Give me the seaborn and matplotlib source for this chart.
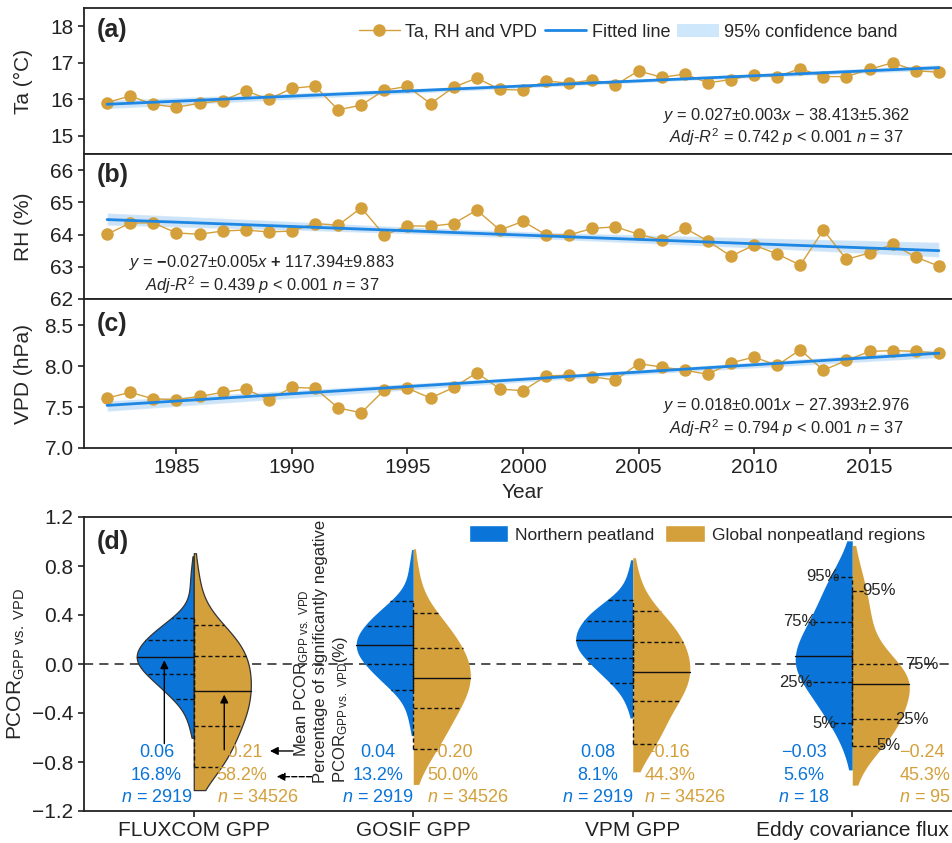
import numpy as np
import pandas as pd
import seaborn as sns
import matplotlib.pyplot as plt
from matplotlib.lines import Line2D
from matplotlib.patches import Patch

# ---- data ----
years = np.arange(1982, 2019)
ta = [15.91, 16.09, 15.86, 15.78, 15.89, 15.96, 16.23, 16.00, 16.30, 16.36,
      15.71, 15.84, 16.25, 16.35, 15.88, 16.33, 16.58, 16.27, 16.25, 16.50,
      16.44, 16.53, 16.39, 16.78, 16.60, 16.69, 16.45, 16.54, 16.67, 16.62,
      16.84, 16.62, 16.62, 16.82, 17.00, 16.78, 16.74]
rh = [64.01, 64.36, 64.36, 64.05, 64.01, 64.11, 64.14, 64.08, 64.11, 64.34,
      64.29, 64.83, 63.98, 64.27, 64.26, 64.34, 64.76, 64.14, 64.41, 63.99,
      63.99, 64.19, 64.24, 64.01, 63.83, 64.20, 63.80, 63.33, 63.67, 63.40,
      63.05, 64.14, 63.23, 63.43, 63.70, 63.30, 63.02]
vpd = [7.61, 7.68, 7.60, 7.59, 7.63, 7.68, 7.72, 7.59, 7.74, 7.73,
       7.49, 7.43, 7.71, 7.73, 7.61, 7.74, 7.92, 7.72, 7.70, 7.88,
       7.89, 7.87, 7.83, 8.03, 7.99, 7.95, 7.90, 8.04, 8.11, 8.01,
       8.20, 7.95, 8.07, 8.18, 8.19, 8.18, 8.16]

eq_a = ["$y$ = 0.027±0.003$x$ − 38.413±5.362", "$Adj$-$R^2$ = 0.742 $p$ < 0.001 $n$ = 37"]
eq_b = ["$y$ = $\\mathbf{-}$0.027±0.005$x$ $\\mathbf{+}$ 117.394±9.883", "$Adj$-$R^2$ = 0.439 $p$ < 0.001 $n$ = 37"]
eq_c = ["$y$ = 0.018±0.001$x$ − 27.393±2.976", "$Adj$-$R^2$ = 0.794 $p$ < 0.001 $n$ = 37"]

products = ["FLUXCOM GPP", "GOSIF GPP", "VPM GPP", "Eddy covariance flux"]
regions = ["Northern peatland", "Global nonpeatland regions"]
# min, 5%, 25%, median line, 75%, 95%, max
q_levels = [0.0, 0.05, 0.25, 0.5, 0.75, 0.95, 1.0]
q_peat = [
    [-0.55, -0.288, -0.082, 0.055, 0.196, 0.378, 0.83],
    [-0.53, -0.212, -0.003, 0.155, 0.313, 0.514, 0.88],
    [-0.39, -0.158, 0.049, 0.196, 0.354, 0.522, 0.80],
    [-0.78, -0.484, -0.147, 0.068, 0.343, 0.713, 0.92],
]
q_nonpeat = [
    [-0.94, -0.843, -0.504, -0.218, 0.068, 0.318, 0.82],
    [-0.90, -0.696, -0.362, -0.112, 0.128, 0.419, 0.86],
    [-0.80, -0.653, -0.302, -0.063, 0.182, 0.433, 0.79],
    [-0.90, -0.667, -0.449, -0.161, -0.003, 0.600, 0.88],
]
mean_peat = [0.06, 0.04, 0.08, -0.03]
mean_nonpeat = [-0.21, -0.20, -0.16, -0.24]
pct_peat = [16.8, 13.2, 8.1, 5.6]
pct_nonpeat = [58.2, 50.0, 44.3, 45.3]
n_peat = [2919, 2919, 2919, 18]
n_nonpeat = [34526, 34526, 34526, 95]
pct_labels = ["95%", "75%", "25%", "5%"]

GOLD = "#D4A03C"
BLUE = "#0A74D8"
FIT = "#1E86E3"

sns.set_style("ticks")
plt.rcParams["font.family"] = ["Liberation Sans", "DejaVu Sans"]
plt.rcParams["mathtext.fontset"] = "custom"
plt.rcParams["mathtext.rm"] = "Liberation Sans"
plt.rcParams["mathtext.it"] = "Liberation Sans:italic"
plt.rcParams["mathtext.bf"] = "Liberation Sans:bold"
plt.rcParams["axes.linewidth"] = 1.3
plt.rcParams["axes.edgecolor"] = "#222222"
for k in ["xtick", "ytick"]:
    plt.rcParams[k + ".major.width"] = 1.2
    plt.rcParams[k + ".major.size"] = 4
    plt.rcParams[k + ".labelsize"] = 15
    plt.rcParams[k + ".color"] = "#222222"

fig = plt.figure(figsize=(9.52, 8.43), dpi=100)
W = 878 / 952
axa = fig.add_axes([84 / 952, 1 - 154 / 843, W, 146 / 843])
axb = fig.add_axes([84 / 952, 1 - 299 / 843, W, 145 / 843])
axc = fig.add_axes([84 / 952, 1 - 448 / 843, W, 149 / 843])
axd = fig.add_axes([84 / 952, 1 - 811 / 843, W, 294 / 843])


def trend_panel(ax, y, ylim, yticks, ylabel, label, label_y, eq, eq_x, eq_y):
    sns.lineplot(x=years, y=y, ax=ax, color=GOLD, marker="o", markersize=9,
                 markeredgewidth=0, linewidth=1, errorbar=None)
    sns.regplot(x=years, y=y, ax=ax, scatter=False, ci=95, color=FIT, truncate=True,
                seed=0, line_kws=dict(linewidth=2))
    for coll in ax.collections:
        coll.set_facecolor(FIT)
        coll.set_alpha(0.22)
    ax.set_xlim(1981, 2019)
    ax.set_xticks(range(1985, 2016, 5))
    ax.set_ylim(*ylim)
    ax.set_yticks(yticks)
    ax.set_ylabel(ylabel, fontsize=15)
    ax.yaxis.set_label_coords(-0.058, 0.5)
    ax.text(0.015, label_y, label, transform=ax.transAxes, fontsize=18,
            fontweight="bold", ha="left", va="center")
    ax.text(eq_x, eq_y[0], eq[0], transform=ax.transAxes, fontsize=11.8, ha="center", va="center")
    ax.text(eq_x, eq_y[1], eq[1], transform=ax.transAxes, fontsize=11.8, ha="center", va="center")


trend_panel(axa, ta, (14.5, 18.5), [15, 16, 17, 18], "Ta (°C)", "(a)", 0.85, eq_a, 0.80, (0.262, 0.118))
trend_panel(axb, rh, (62, 66.5), [62, 63, 64, 65, 66], "RH (%)", "(b)", 0.855, eq_b, 0.203, (0.25, 0.095))
trend_panel(axc, vpd, (7.0, 8.82), [7.0, 7.5, 8.0, 8.5], "VPD (hPa)", "(c)", 0.83, eq_c, 0.80, (0.283, 0.13))
axa.tick_params(labelbottom=False)
axb.tick_params(labelbottom=False)
axc.set_xlabel("Year", fontsize=15, labelpad=4)

handles = [Line2D([], [], color=GOLD, marker="o", markersize=9, lw=1, markeredgewidth=0),
           Line2D([], [], color=FIT, lw=2),
           Patch(facecolor="#cfe7fb", edgecolor="none")]
axa.legend(handles, ["Ta, RH and VPD", "Fitted line", "95% confidence band"],
           loc="center right", bbox_to_anchor=(0.935, 0.835), ncol=3, frameon=False,
           fontsize=13, handlelength=2.3, handletextpad=0.3, columnspacing=0.4,
           borderaxespad=0)

# ---- panel d: split violins rebuilt from the read quantiles ----
probs = (np.arange(800) + 0.5) / 800
rows = []
for i, prod in enumerate(products):
    for reg, qs in zip(regions, (q_peat[i], q_nonpeat[i])):
        for v in np.interp(probs, q_levels, qs):
            rows.append((prod, reg, v))
df = pd.DataFrame(rows, columns=["product", "region", "pcor"])

axd.axhline(0, color="#222222", lw=1.1, ls=(0, (6, 4)), zorder=0)
sns.violinplot(data=df, x="product", y="pcor", hue="region", split=True, inner=None,
               cut=0.5, density_norm="width", width=0.52, palette=[BLUE, GOLD],
               saturation=1, linewidth=0, bw_adjust=1.8, legend=False, ax=axd)

# half-violin outer edges, keyed by (category, side)
edges = {}
for coll in axd.collections:
    paths = coll.get_paths()
    if not paths:
        continue
    v = paths[0].vertices
    c = int(np.round(v[:, 0].mean()))
    side = 1 if v[:, 0].mean() > c else -1
    m = np.abs(v[:, 0] - c) > 1e-6
    order = np.argsort(v[m, 1])
    edges[(c, side)] = (v[m, 1][order], np.abs(v[m, 0][order] - c))
    if c == 0:
        coll.set_edgecolor("#333333")
        coll.set_linewidth(0.9)

for i in range(len(products)):
    for side, qs in ((-1, q_peat[i]), (1, q_nonpeat[i])):
        ys, ws = edges[(i, side)]
        for k, qv in enumerate(qs[1:6]):
            w = np.interp(qv, ys, ws)
            ls = "-" if k == 2 else (0, (3, 2))
            axd.plot([i, i + side * w], [qv, qv], color="#111111", lw=1, ls=ls)
        axd.plot([i, i], [qs[1], qs[5]], color="#111111", lw=1, ls=(0, (3, 2)))

blue_dx = [-0.17, -0.16, -0.16, -0.22]
gold_dx = [0.105, 0.062, 0.053, 0.215]
for i in range(len(products)):
    for row_y, bt, gt in ((-0.724, f"{mean_peat[i]:.2f}", f"{mean_nonpeat[i]:.2f}"),
                          (-0.914, f"{pct_peat[i]:.1f}%", f"{pct_nonpeat[i]:.1f}%"),
                          (-1.088, f"$n$ = {n_peat[i]}", f"$n$ = {n_nonpeat[i]}")):
        axd.text(i + blue_dx[i], row_y, bt.replace("-", "\u2212"), color=BLUE,
                 fontsize=13, ha="center", va="center")
        axd.text(i + gold_dx[i], row_y, gt.replace("-", "\u2212"), color=GOLD,
                 fontsize=13, ha="left", va="center")

# percentile labels on the eddy covariance violin
peat_q = [q_peat[3][5], q_peat[3][4], q_peat[3][2], q_peat[3][1]]
nonpeat_q = [q_nonpeat[3][5], q_nonpeat[3][4], q_nonpeat[3][2], q_nonpeat[3][1]]
for lab, y, dx in zip(pct_labels, peat_q, [-0.055, -0.164, -0.18, -0.073]):
    axd.text(3 + dx, y, lab, fontsize=12, ha="right", va="center")
for lab, y, dx in zip(pct_labels, nonpeat_q, [0.045, 0.24, 0.195, 0.11]):
    axd.text(3 + dx, y, lab, fontsize=12, ha="left", va="center")

arrow = dict(arrowstyle="-|>", color="k", lw=1, mutation_scale=12, shrinkA=0, shrinkB=0)
axd.annotate("", xy=(-0.134, 0.03), xytext=(-0.134, -0.65), arrowprops=arrow)
axd.annotate("", xy=(0.139, -0.25), xytext=(0.139, -0.70), arrowprops=arrow)
axd.annotate("", xy=(0.347, -0.71), xytext=(0.453, -0.71), arrowprops=arrow)
axd.annotate("", xy=(0.378, -0.92), xytext=(0.537, -0.92), arrowprops=dict(arrow, linestyle="--"))

sub = "$_{\\mathrm{GPP\\ vs.\\ VPD}}$"
axd.text(0.49, -0.757, "Mean PCOR" + sub, rotation=90, fontsize=12, ha="center", va="bottom")
axd.text(0.578, -0.974, "Percentage of significantly negative", rotation=90, fontsize=12,
         ha="center", va="bottom")
axd.text(0.667, -0.974, "PCOR" + sub + "(%)", rotation=90, fontsize=12, ha="center", va="bottom")

axd.set_xlim(-0.5, 3.5)
axd.set_ylim(-1.2, 1.2)
axd.set_yticks(np.round(np.arange(-1.2, 1.21, 0.4), 1))
axd.set_xlabel("")
axd.set_ylabel("PCOR" + sub, fontsize=15)
axd.yaxis.set_label_coords(-0.065, 0.5)
axd.text(0.015, 0.916, "(d)", transform=axd.transAxes, fontsize=18, fontweight="bold",
         ha="left", va="center")
axd.legend([Patch(facecolor=BLUE), Patch(facecolor=GOLD)], regions, loc="center right",
           bbox_to_anchor=(0.966, 0.942), ncol=2, frameon=False, fontsize=12.5,
           handlelength=2.3, handleheight=1.1, handletextpad=0.4, columnspacing=0.6,
           borderaxespad=0)

fig.savefig("out.png", dpi=100)
